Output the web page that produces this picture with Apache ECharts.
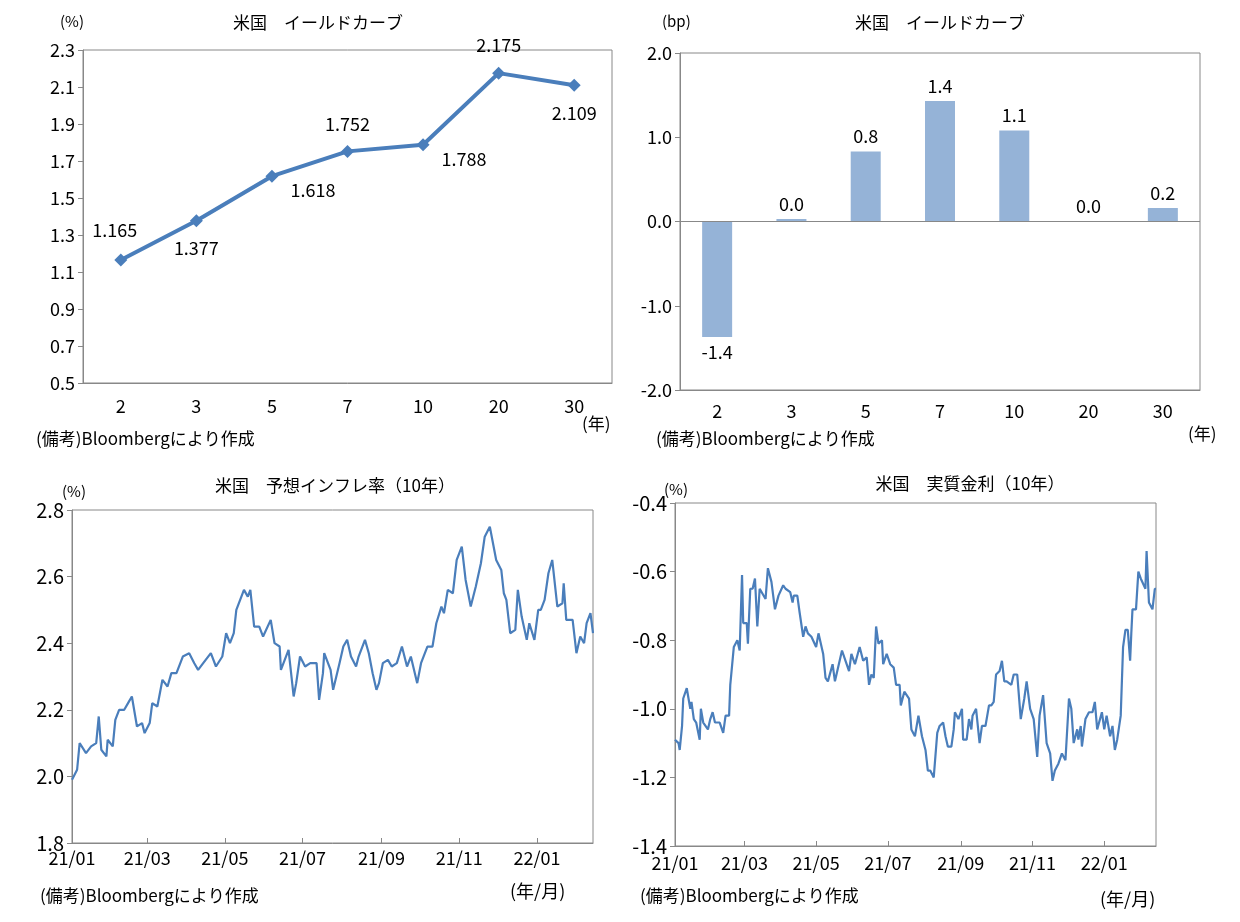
<html>
<head>
<meta charset="utf-8">
<script src="https://cdn.jsdelivr.net/npm/echarts@6/dist/echarts.min.js"></script>
<style>html,body,#main{width:100%;height:100%;margin:0;background:#fff;}</style>
</head>
<body>
<div id="main"></div>
<script type="text/javascript">
// 年限
var tenors = ['2', '3', '5', '7', '10', '20', '30'];
// 利回り(%)
var yields = [1.165, 1.377, 1.618, 1.752, 1.788, 2.175, 2.109];
// 前日比(bp)
var changes = [-1.37, 0.03, 0.83, 1.43, 1.08, 0.0, 0.16];
var changeLabels = ['-1.4', '0.0', '0.8', '1.4', '1.1', '0.0', '0.2'];
// 日付目盛り(2021/1/1からの日数)
var monthDays = [0, 59, 120, 181, 243, 304, 365];
var monthLabels = ['21/01', '21/03', '21/05', '21/07', '21/09', '21/11', '22/01'];
// 予想インフレ率(10年) [日数, %]
var bei = [[0,1.99],[4,2.02],[6,2.10],[11,2.07],[15,2.09],[19,2.10],[21,2.18],[23,2.08],[27,2.06],[28,2.11],[32,2.09],[34,2.17],[37,2.20],[41,2.20],[44,2.22],[47,2.24],[51,2.15],[55,2.16],[57,2.13],[61,2.16],[63,2.22],[67,2.21],[71,2.29],[75,2.27],[78,2.31],[82,2.31],[87,2.36],[92,2.37],[96,2.34],[99,2.32],[103,2.34],[109,2.37],[113,2.33],[118,2.36],[121,2.43],[124,2.40],[127,2.43],[129,2.50],[135,2.56],[138,2.54],[140,2.56],[143,2.45],[147,2.45],[150,2.42],[156,2.47],[159,2.40],[163,2.39],[164,2.32],[167,2.35],[170,2.38],[174,2.24],[176,2.28],[179,2.36],[183,2.33],[187,2.34],[192,2.34],[194,2.23],[197,2.31],[198,2.37],[203,2.32],[205,2.26],[210,2.34],[213,2.39],[216,2.41],[219,2.36],[223,2.33],[225,2.36],[230,2.41],[233,2.37],[236,2.31],[239,2.26],[241,2.28],[244,2.34],[248,2.35],[251,2.33],[255,2.34],[259,2.39],[263,2.33],[266,2.36],[271,2.28],[274,2.34],[279,2.39],[283,2.39],[286,2.46],[290,2.51],[292,2.49],[295,2.56],[299,2.55],[302,2.65],[306,2.69],[309,2.59],[313,2.51],[317,2.57],[321,2.64],[324,2.72],[328,2.75],[330,2.71],[333,2.65],[337,2.62],[339,2.55],[341,2.53],[344,2.43],[348,2.44],[350,2.56],[353,2.48],[357,2.41],[359,2.46],[363,2.41],[366,2.50],[368,2.50],[371,2.53],[374,2.61],[377,2.65],[381,2.51],[385,2.52],[386,2.58],[388,2.47],[393,2.47],[396,2.37],[399,2.42],[402,2.40],[404,2.46],[407,2.49],[409,2.43]];
// 実質金利(10年) [日数, %]
var real = [[0,-1.09],[3,-1.10],[4,-1.12],[6,-1.05],[7,-0.97],[10,-0.94],[13,-1.00],[14,-0.98],[16,-1.03],[18,-1.04],[21,-1.09],[22,-1.00],[24,-1.04],[28,-1.06],[30,-1.03],[32,-1.01],[34,-1.04],[38,-1.04],[41,-1.07],[43,-1.02],[46,-1.02],[47,-0.93],[50,-0.82],[53,-0.80],[55,-0.83],[57,-0.61],[58,-0.75],[61,-0.75],[62,-0.81],[64,-0.65],[66,-0.65],[68,-0.62],[70,-0.76],[72,-0.65],[77,-0.68],[79,-0.59],[82,-0.63],[85,-0.71],[88,-0.67],[92,-0.64],[94,-0.65],[98,-0.66],[100,-0.69],[101,-0.67],[104,-0.67],[106,-0.72],[109,-0.79],[111,-0.76],[113,-0.78],[116,-0.79],[120,-0.82],[122,-0.78],[126,-0.84],[128,-0.91],[130,-0.92],[134,-0.87],[136,-0.92],[142,-0.83],[145,-0.86],[148,-0.89],[150,-0.84],[153,-0.87],[157,-0.82],[160,-0.86],[163,-0.85],[165,-0.93],[167,-0.90],[169,-0.91],[171,-0.76],[173,-0.81],[176,-0.80],[177,-0.87],[180,-0.84],[183,-0.87],[186,-0.88],[188,-0.93],[191,-0.93],[192,-0.99],[195,-0.95],[199,-0.97],[201,-1.06],[204,-1.08],[207,-1.02],[210,-1.08],[213,-1.12],[215,-1.18],[217,-1.18],[220,-1.20],[223,-1.07],[225,-1.05],[228,-1.04],[230,-1.08],[232,-1.11],[235,-1.11],[237,-1.06],[238,-1.01],[241,-1.03],[244,-1.00],[245,-1.09],[248,-1.09],[250,-1.03],[252,-1.06],[253,-1.02],[256,-1.00],[259,-1.10],[261,-1.05],[264,-1.05],[267,-0.99],[269,-0.99],[271,-0.98],[273,-0.90],[276,-0.89],[278,-0.86],[280,-0.92],[282,-0.92],[286,-0.93],[288,-0.90],[291,-0.90],[294,-1.03],[297,-0.97],[299,-0.92],[302,-1.00],[305,-1.03],[308,-1.14],[310,-1.02],[313,-0.96],[316,-1.10],[319,-1.13],[321,-1.21],[323,-1.18],[326,-1.16],[329,-1.13],[332,-1.15],[335,-0.97],[337,-1.00],[339,-1.10],[342,-1.06],[343,-1.09],[345,-1.05],[346,-1.11],[349,-1.03],[352,-1.01],[355,-1.01],[357,-0.98],[359,-1.06],[363,-1.01],[365,-1.06],[367,-1.02],[370,-1.08],[372,-1.05],[374,-1.12],[376,-1.09],[379,-1.02],[381,-0.82],[383,-0.77],[385,-0.77],[387,-0.86],[388,-0.78],[389,-0.71],[392,-0.71],[394,-0.60],[396,-0.62],[400,-0.65],[401,-0.54],[403,-0.69],[406,-0.71],[408,-0.65],[409,-0.65]];

var FONT = '"Noto Sans CJK JP", sans-serif';
var chart = echarts.init(document.getElementById('main'));
var lineColor = '#4a7ebb';
var lbl = {color: '#000', fontFamily: FONT, fontSize: 18};

function txt(x, y, s, size, align) {
    return {type: 'text', x: x, y: y, style: {text: s, font: (size || 16) + 'px ' + FONT, fill: '#000', align: align || 'left', verticalAlign: 'top'}};
}

var yieldLabelPos = [[-22, -32], 'bottom', 'right', 'top', 'right', 'top', 'bottom'];

var option = {
    animation: false,
    grid: [
        {left: 83, top: 50, width: 529, height: 333, show: true, borderColor: '#888', borderWidth: 1},
        {left: 680, top: 53, width: 520, height: 337, show: true, borderColor: '#888', borderWidth: 1},
        {left: 72, top: 510, width: 521, height: 333, show: true, borderColor: '#888', borderWidth: 1},
        {left: 675, top: 503, width: 481, height: 343, show: true, borderColor: '#888', borderWidth: 1}
    ],
    xAxis: [
        {gridIndex: 0, type: 'category', data: tenors, axisTick: {show: false}, axisLine: {lineStyle: {color: '#888'}}, axisLabel: Object.assign({margin: 14}, lbl)},
        {gridIndex: 1, type: 'category', data: tenors, axisTick: {show: false}, axisLine: {onZero: false, lineStyle: {color: '#888'}}, axisLabel: Object.assign({margin: 12}, lbl)},
        {gridIndex: 2, type: 'value', min: 0, max: 409, splitLine: {show: false}, axisLine: {lineStyle: {color: '#888'}},
         axisTick: {customValues: monthDays, length: 5, inside: true, lineStyle: {color: '#888'}},
         axisLabel: Object.assign({customValues: monthDays, margin: 6, formatter: function (v) { return monthLabels[monthDays.indexOf(v)]; }}, lbl)},
        {gridIndex: 3, type: 'value', min: 0, max: 409, splitLine: {show: false}, axisLine: {lineStyle: {color: '#888'}},
         axisTick: {customValues: monthDays, length: 5, inside: true, lineStyle: {color: '#888'}},
         axisLabel: Object.assign({customValues: monthDays, margin: 8, formatter: function (v) { return monthLabels[monthDays.indexOf(v)]; }}, lbl)}
    ],
    yAxis: [
        {gridIndex: 0, type: 'value', min: 0.5, max: 2.3, interval: 0.2, splitLine: {show: false}, axisLine: {show: true, lineStyle: {color: '#888'}}, axisTick: {show: true, lineStyle: {color: '#888'}}, axisLabel: Object.assign({formatter: function (v) { return v.toFixed(1); }}, lbl)},
        {gridIndex: 1, type: 'value', min: -2, max: 2, interval: 1, splitLine: {show: false}, axisLine: {show: true, lineStyle: {color: '#888'}}, axisTick: {show: true, lineStyle: {color: '#888'}}, axisLabel: Object.assign({formatter: function (v) { return v.toFixed(1); }}, lbl)},
        {gridIndex: 2, type: 'value', min: 1.8, max: 2.8, interval: 0.2, splitLine: {show: false}, axisLine: {show: true, lineStyle: {color: '#888'}}, axisTick: {show: true, lineStyle: {color: '#888'}}, axisLabel: Object.assign({formatter: function (v) { return v.toFixed(1); }}, lbl, {fontSize: 20})},
        {gridIndex: 3, type: 'value', min: -1.4, max: -0.4, interval: 0.2, splitLine: {show: false}, axisLine: {show: true, lineStyle: {color: '#888'}}, axisTick: {show: true, lineStyle: {color: '#888'}}, axisLabel: Object.assign({formatter: function (v) { return v.toFixed(1); }}, lbl, {fontSize: 20})}
    ],
    series: [
        {type: 'line', xAxisIndex: 0, yAxisIndex: 0, symbol: 'diamond', symbolSize: 13,
         lineStyle: {color: lineColor, width: 4}, itemStyle: {color: lineColor},
         data: yields.map(function (v, i) {
             var p = yieldLabelPos[i];
             var off = (p === 'right') ? [0, 14] : undefined;
             return {value: v, label: {show: true, position: p, offset: off, distance: 12, formatter: v.toFixed(3), color: '#000', fontFamily: FONT, fontSize: 18}};
         })},
        {type: 'bar', xAxisIndex: 1, yAxisIndex: 1, barWidth: 30, itemStyle: {color: '#95b3d7'},
         data: changes.map(function (v, i) {
             return {value: v, label: {show: true, position: v < 0 ? 'bottom' : 'top', distance: 6, formatter: changeLabels[i], color: '#000', fontFamily: FONT, fontSize: 18}};
         }),
         markLine: {silent: true, symbol: 'none', label: {show: false}, lineStyle: {color: '#888', type: 'solid', width: 1}, data: [{yAxis: 0}]}},
        {type: 'line', xAxisIndex: 2, yAxisIndex: 2, showSymbol: false, lineStyle: {color: lineColor, width: 2.2}, data: bei},
        {type: 'line', xAxisIndex: 3, yAxisIndex: 3, showSymbol: false, lineStyle: {color: lineColor, width: 2.2}, data: real}
    ],
    graphic: [
        txt(318, 14, '米国\u3000イールドカーブ', 17, 'center'),
        txt(60, 14, '(%)', 15),
        txt(582, 415, '(年)', 17),
        txt(36, 430, '(備考)Bloombergにより作成', 17),
        txt(940, 14, '米国\u3000イールドカーブ', 17, 'center'),
        txt(662, 14, '(bp)', 15),
        txt(1188, 425, '(年)', 17),
        txt(656, 430, '(備考)Bloombergにより作成', 17),
        txt(335, 477, '米国\u3000予想インフレ率（10年）', 17, 'center'),
        txt(62, 484, '(%)', 15),
        txt(40, 887, '(備考)Bloombergにより作成', 17),
        txt(510, 882, '(年/月)', 18),
        txt(970, 475, '米国\u3000実質金利（10年）', 17, 'center'),
        txt(664, 482, '(%)', 15),
        txt(640, 887, '(備考)Bloombergにより作成', 17),
        txt(1100, 890, '(年/月)', 18)
    ]
};
chart.setOption(option);
window.onresize = chart.resize;
</script>
</body>
</html>
